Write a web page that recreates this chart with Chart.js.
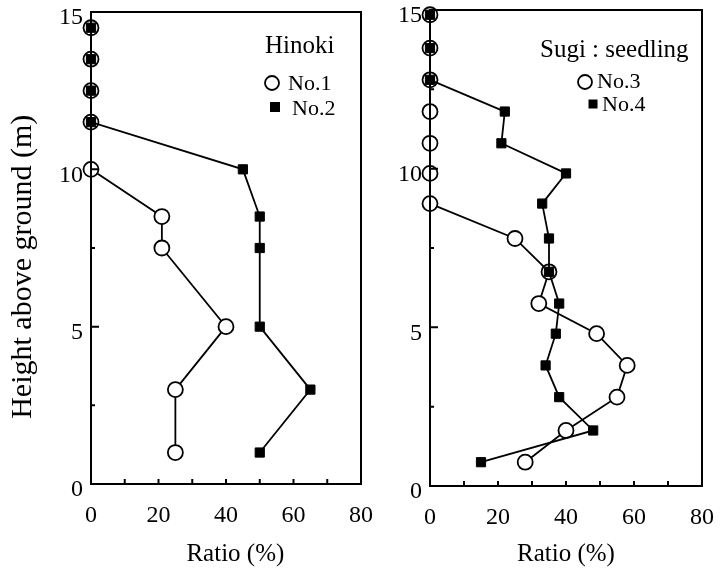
<!DOCTYPE html>
<html>
<head>
<meta charset="utf-8">
<script src="https://cdn.jsdelivr.net/npm/chart.js@4.4.1/dist/chart.umd.min.js"></script>
<style>
  html, body { margin: 0; padding: 0; background: #fff; }
  #wrap { position: relative; width: 720px; height: 576px; }
  .panel { position: absolute; top: 0; height: 576px; }
</style>
</head>
<body>
<div id="wrap">
  <div class="panel" style="left:0;width:380px"><canvas id="hinoki"></canvas></div>
  <div class="panel" style="left:380px;width:340px"><canvas id="sugi"></canvas></div>
</div>
<script>
// Hinoki (heights in m, ratio in %)
const hinokiHeights = [14.5, 13.5, 12.5, 11.5, 10, 8.5, 7.5, 5, 3, 1];
const hinokiNo1 = [0, 0, 0, 0, 0, 21, 21, 40, 25, 25];
const hinokiNo2 = [0, 0, 0, 0, 45, 50, 50, 50, 65, 50];

// Sugi : seedling
const sugiHeights = [14.85, 13.8, 12.8, 11.8, 10.8, 9.85, 8.9, 7.8, 6.75, 5.75, 4.8, 3.8, 2.8, 1.75, 0.75];
const sugiNo3 = [0, 0, 0, 0, 0, 0, 0, 25, 35, 32, 49, 58, 55, 40, 28];
const sugiNo4 = [0, 0, 0, 22, 21, 40, 33, 35, 35, 38, 37, 34, 38, 48, 15];

// axis marks
const xTickMarks = [10, 20, 30, 40, 50, 60, 70];
const yTickMarks = [2.5, 5, 7.5, 10, 12.5];

const SERIF = '"Liberation Serif", "Times New Roman", serif';
const NB = '\u00a0';

function pts(hs, vals) {
  return vals.map((v, i) => ({ x: v, y: hs[i] }));
}

// box round the plot + short inward ticks + legend in the corner
const framePlugin = {
  id: 'frame',
  afterDraw(chart, args, opts) {
    const { ctx, chartArea: a, scales } = chart;
    ctx.save();
    ctx.strokeStyle = '#000';
    ctx.lineWidth = 2;
    ctx.strokeRect(a.left, a.top, a.right - a.left, a.bottom - a.top);
    ctx.beginPath();
    xTickMarks.forEach(v => {
      const px = scales.x.getPixelForValue(v);
      ctx.moveTo(px, a.bottom);
      ctx.lineTo(px, a.bottom - 5);
    });
    yTickMarks.forEach(v => {
      const py = scales.y.getPixelForValue(v);
      ctx.moveTo(a.left, py);
      ctx.lineTo(a.left + (v % 5 === 0 ? 8 : 4), py);
    });
    ctx.stroke();

    // legend
    const lg = opts.legend;
    ctx.fillStyle = '#000';
    ctx.textBaseline = 'alphabetic';
    ctx.textAlign = 'left';
    ctx.font = '25px ' + SERIF;
    ctx.fillText(lg.title, lg.titleX, lg.titleY);
    ctx.font = '22px ' + SERIF;
    lg.items.forEach(it => {
      if (it.marker === 'circle') {
        ctx.beginPath();
        ctx.arc(it.mx, it.my, 7, 0, Math.PI * 2);
        ctx.fillStyle = '#fff';
        ctx.fill();
        ctx.lineWidth = 1.8;
        ctx.stroke();
      } else {
        ctx.fillStyle = '#000';
        ctx.fillRect(it.mx - it.size / 2, it.my - it.size / 2, it.size, it.size);
      }
      ctx.fillStyle = '#000';
      ctx.fillText(it.label, it.tx, it.ty);
    });
    ctx.restore();
  }
};

function circleSet(label, data) {
  return {
    label, data,
    borderColor: '#000', borderWidth: 1.8,
    pointStyle: 'circle', pointRadius: 7.5, pointBorderWidth: 1.8,
    pointBackgroundColor: '#fff', pointBorderColor: '#000',
    tension: 0, clip: false, order: 2
  };
}
function squareSet(label, data) {
  return {
    label, data,
    borderColor: '#000', borderWidth: 1.8,
    pointStyle: 'rect', pointRadius: 6.5, pointBorderWidth: 1,
    pointBackgroundColor: '#000', pointBorderColor: '#000',
    tension: 0, clip: false, order: 1
  };
}

function makeChart(id, datasets, cfg) {
  return new Chart(document.getElementById(id), {
    type: 'line',
    data: { datasets },
    plugins: [framePlugin],
    options: {
      responsive: true,
      maintainAspectRatio: false,
      animation: false,
      layout: { padding: { top: cfg.top, right: cfg.right, left: 0, bottom: 0 } },
      plugins: {
        legend: { display: false },
        tooltip: { enabled: false },
        frame: { legend: cfg.legend }
      },
      scales: {
        x: {
          type: 'linear', min: 0, max: 80,
          grid: { display: false, drawTicks: false }, border: { display: false },
          ticks: { stepSize: 20, color: '#000', padding: 17, maxRotation: 0, font: { family: SERIF, size: 24 } },
          title: { display: true, text: cfg.xTitle, color: '#000', font: { family: SERIF, size: 25 }, padding: { top: 0, bottom: 7 } },
          afterFit(s) { s.height = cfg.xH; s.paddingLeft = 0; s.paddingRight = 0; }
        },
        y: {
          type: 'linear', min: 0, max: 15,
          grid: { display: false, drawTicks: false }, border: { display: false },
          ticks: { stepSize: 5, color: '#000', padding: 8, labelOffset: 6, font: { family: SERIF, size: 24 } },
          title: { display: !!cfg.yTitle, text: cfg.yTitle || '', color: '#000', font: { family: SERIF, size: 30 }, padding: { top: 5, bottom: 0 } },
          afterFit(s) { s.width = cfg.yW; s.paddingTop = 0; s.paddingBottom = 0; }
        }
      }
    }
  });
}

makeChart('hinoki', [
  circleSet('No.1', pts(hinokiHeights, hinokiNo1)),
  squareSet('No.2', pts(hinokiHeights, hinokiNo2))
], {
  top: 12, right: 19, yW: 91, xH: 92,
  xTitle: NB + NB + NB + 'Ratio (%)',
  yTitle: 'Height above ground (m)' + NB + NB + NB + NB + NB,
  legend: {
    title: 'Hinoki', titleX: 265, titleY: 53,
    items: [
      { marker: 'circle', label: 'No.1', mx: 272, my: 83, tx: 288, ty: 90 },
      { marker: 'rect', size: 10, label: 'No.2', mx: 275, my: 107, tx: 292, ty: 115 }
    ]
  }
});

makeChart('sugi', [
  circleSet('No.3', pts(sugiHeights, sugiNo3)),
  squareSet('No.4', pts(sugiHeights, sugiNo4))
], {
  top: 10, right: 18, yW: 50, xH: 90,
  xTitle: 'Ratio (%)',
  legend: {
    title: 'Sugi : seedling', titleX: 160, titleY: 57,
    items: [
      { marker: 'circle', label: 'No.3', mx: 205, my: 82, tx: 217, ty: 88 },
      { marker: 'rect', size: 9, label: 'No.4', mx: 213, my: 104, tx: 222, ty: 111 }
    ]
  }
});
</script>
</body>
</html>
